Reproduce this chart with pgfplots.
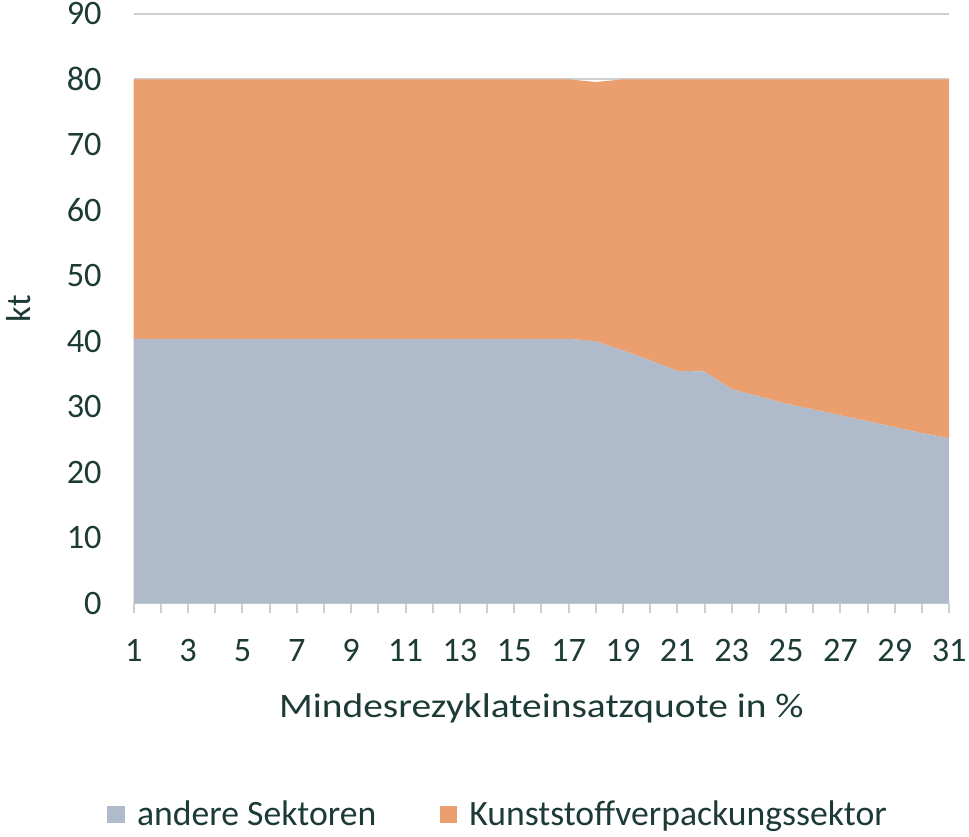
\documentclass[border=0pt]{standalone}
\usepackage{fontspec}
\setmainfont{Carlito}
\newfontfamily\widefont{Carlito}[FakeStretch=1.15]
\usepackage{pgfplots}
\pgfplotsset{compat=1.18}

\definecolor{andere}{HTML}{AFBACB}
\definecolor{kunst}{HTML}{EB9F6E}
\definecolor{txt}{HTML}{1D3B36}
\definecolor{gridc}{HTML}{CFCFCF}

\begin{document}
\begin{tikzpicture}
\begin{axis}[
    name=ax,
    scale only axis,
    width=411.5pt, height=297.5pt,
    xmin=1, xmax=31, ymin=0, ymax=90,
    stack plots=y,
    font=\fontsize{17.3}{20}\selectfont,
    /pgf/number format/assume math mode=true,
    every tick label/.append style={text=txt, inner sep=0pt},
    xtick={1,3,...,31},
    minor x tick num=1,
    ytick={0,10,...,90},
    tick align=outside,
    major tick length=5pt, minor tick length=5pt,
    x tick style={color=gridc, line width=1pt},
    y tick style={draw=none},
    axis x line*=bottom,
    axis y line*=left,
    x axis line style={color=gridc, line width=1pt, -},
    y axis line style={draw=none},
    ymajorgrids,
    grid style={color=gridc, line width=1pt},
    xticklabel style={yshift=-13pt},
    yticklabel style={xshift=-11pt},
    every axis x label/.style={at={(rel axis cs:0.5,0)}, anchor=center, yshift=-53pt, text=txt,
        font=\widefont\fontsize{17.3}{20}\selectfont},
    every axis y label/.style={at={(rel axis cs:0,0.5)}, anchor=center, xshift=-58pt, rotate=90, text=txt,
        font=\fontsize{17.5}{20}\selectfont},
    xlabel={Mindesrezyklateinsatzquote in \%},
    ylabel={kt},
    legend style={draw=none, fill=none, text=txt, at={(rel axis cs:0.448,-0.358)}, anchor=center,
        font=\fontsize{18}{20}\selectfont,
        /tikz/every even column/.append style={column sep=30pt}},
    legend columns=2,
    legend image code/.code={\fill[#1] (0pt,-4.5pt) rectangle (9pt,4.5pt); \path (13pt,0pt);},
]
\addplot[fill=andere, draw=none] coordinates {
(1,40.4) (2,40.4) (3,40.4) (4,40.4) (5,40.4) (6,40.4) (7,40.4) (8,40.4)
(9,40.4) (10,40.4) (11,40.4) (12,40.4) (13,40.4) (14,40.4) (15,40.4) (16,40.4)
(17,40.4) (18,40.0) (19,38.6) (20,37.1) (21,35.5) (22,35.4) (23,32.7) (24,31.6)
(25,30.5) (26,29.6) (27,28.7) (28,27.8) (29,26.9) (30,26.0) (31,25.2)
} \closedcycle;
\addlegendentry{andere Sektoren}
\addplot[fill=kunst, draw=none] coordinates {
(1,39.6) (2,39.6) (3,39.6) (4,39.6) (5,39.6) (6,39.6) (7,39.6) (8,39.6)
(9,39.6) (10,39.6) (11,39.6) (12,39.6) (13,39.6) (14,39.6) (15,39.6) (16,39.6)
(17,39.6) (18,39.6) (19,41.4) (20,42.9) (21,44.5) (22,44.6) (23,47.3) (24,48.4)
(25,49.5) (26,50.4) (27,51.3) (28,52.2) (29,53.1) (30,54.0) (31,54.8)
} \closedcycle;
\addlegendentry{Kunststoffverpackungssektor}
\end{axis}
\path[use as bounding box] ([xshift=-64pt,yshift=-115pt]ax.south west) rectangle ([xshift=10pt,yshift=7pt]ax.north east);
\end{tikzpicture}
\end{document}
